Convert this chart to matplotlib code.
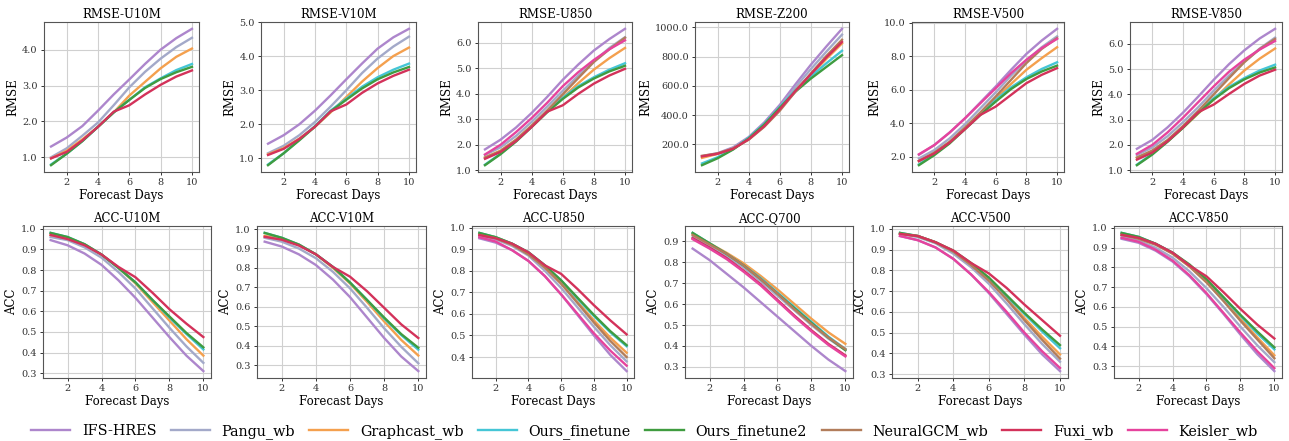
import matplotlib
matplotlib.use("Agg")
import matplotlib.pyplot as plt
from matplotlib.ticker import MultipleLocator, FormatStrFormatter

plt.rcParams['font.family'] = ['DejaVu Serif']

days = [1, 2, 3, 4, 5, 6, 7, 8, 9, 10]
models = ["IFS-HRES", "Pangu_wb", "Graphcast_wb", "Ours_finetune", "Ours_finetune2",
          "NeuralGCM_wb", "Fuxi_wb", "Keisler_wb"]
colors = {"IFS-HRES": "#ad86cc", "Pangu_wb": "#a3a9c9", "Graphcast_wb": "#f4a04e",
          "Ours_finetune": "#45c6d6", "Ours_finetune2": "#3f9c40", "NeuralGCM_wb": "#b27d5b",
          "Fuxi_wb": "#d3325a", "Keisler_wb": "#e6439d"}

rmse_u10m = {
    "IFS-HRES": [1.30, 1.55, 1.87, 2.30, 2.75, 3.17, 3.60, 4.00, 4.32, 4.58],
    "Pangu_wb": [1.00, 1.25, 1.60, 1.97, 2.45, 2.95, 3.38, 3.75, 4.07, 4.33],
    "Graphcast_wb": [0.97, 1.18, 1.50, 1.85, 2.25, 2.72, 3.10, 3.48, 3.80, 4.03],
    "Ours_finetune": [0.80, 1.10, 1.45, 1.85, 2.25, 2.60, 2.95, 3.20, 3.43, 3.60],
    "Ours_finetune2": [0.78, 1.10, 1.45, 1.85, 2.25, 2.60, 2.93, 3.18, 3.37, 3.52],
    "Fuxi_wb": [0.97, 1.15, 1.47, 1.85, 2.27, 2.45, 2.75, 3.02, 3.25, 3.42],
}
rmse_v10m = {
    "IFS-HRES": [1.43, 1.68, 2.00, 2.40, 2.85, 3.32, 3.78, 4.22, 4.55, 4.80],
    "Pangu_wb": [1.15, 1.37, 1.68, 2.07, 2.52, 3.00, 3.50, 3.93, 4.28, 4.57],
    "Graphcast_wb": [1.12, 1.30, 1.58, 1.93, 2.35, 2.80, 3.25, 3.65, 4.00, 4.25],
    "Ours_finetune": [0.82, 1.15, 1.55, 1.95, 2.40, 2.75, 3.10, 3.38, 3.60, 3.78],
    "Ours_finetune2": [0.80, 1.15, 1.53, 1.93, 2.38, 2.72, 3.05, 3.32, 3.52, 3.68],
    "Fuxi_wb": [1.10, 1.28, 1.57, 1.93, 2.38, 2.58, 2.92, 3.20, 3.42, 3.60],
}
rmse_u850 = {
    "IFS-HRES": [1.82, 2.20, 2.68, 3.25, 3.88, 4.55, 5.15, 5.70, 6.15, 6.55],
    "Pangu_wb": [1.60, 1.90, 2.35, 2.90, 3.50, 4.12, 4.72, 5.27, 5.80, 6.22],
    "Graphcast_wb": [1.50, 1.77, 2.20, 2.75, 3.30, 3.85, 4.42, 4.95, 5.40, 5.80],
    "Ours_finetune": [1.22, 1.65, 2.15, 2.72, 3.30, 3.85, 4.30, 4.65, 4.95, 5.20],
    "Ours_finetune2": [1.20, 1.63, 2.13, 2.70, 3.28, 3.80, 4.25, 4.60, 4.88, 5.10],
    "NeuralGCM_wb": [1.50, 1.75, 2.20, 2.75, 3.35, 3.98, 4.62, 5.25, 5.75, 6.20],
    "Fuxi_wb": [1.45, 1.72, 2.15, 2.70, 3.30, 3.55, 4.00, 4.40, 4.72, 4.98],
    "Keisler_wb": [1.62, 2.00, 2.50, 3.05, 3.65, 4.30, 4.85, 5.33, 5.75, 6.10],
}
rmse_z200 = {
    "IFS-HRES": [120, 140, 180, 250, 350, 470, 610, 745, 870, 990],
    "Pangu_wb": [115, 137, 175, 243, 338, 455, 590, 715, 835, 950],
    "Graphcast_wb": [108, 135, 170, 235, 325, 440, 570, 675, 785, 890],
    "Ours_finetune": [70, 112, 168, 245, 340, 455, 570, 665, 755, 840],
    "Ours_finetune2": [58, 105, 165, 240, 335, 450, 560, 650, 730, 810],
    "NeuralGCM_wb": [122, 138, 172, 232, 320, 430, 560, 685, 805, 915],
    "Fuxi_wb": [118, 136, 170, 235, 325, 440, 565, 680, 795, 900],
}
rmse_v500 = {
    "IFS-HRES": [2.12, 2.70, 3.45, 4.30, 5.25, 6.20, 7.20, 8.15, 8.95, 9.65],
    "Pangu_wb": [1.90, 2.40, 3.10, 3.95, 4.90, 5.85, 6.85, 7.75, 8.55, 9.20],
    "Graphcast_wb": [1.75, 2.20, 2.85, 3.70, 4.55, 5.45, 6.35, 7.20, 7.90, 8.55],
    "Ours_finetune": [1.55, 2.15, 2.85, 3.70, 4.55, 5.40, 6.15, 6.75, 7.25, 7.65],
    "Ours_finetune2": [1.50, 2.10, 2.80, 3.65, 4.50, 5.30, 6.05, 6.65, 7.10, 7.45],
    "NeuralGCM_wb": [1.75, 2.25, 2.90, 3.75, 4.65, 5.60, 6.60, 7.60, 8.45, 9.10],
    "Fuxi_wb": [1.75, 2.20, 2.85, 3.65, 4.50, 5.00, 5.70, 6.40, 6.90, 7.30],
    "Keisler_wb": [2.15, 2.70, 3.45, 4.30, 5.20, 6.10, 7.00, 7.80, 8.50, 9.05],
}
rmse_v850 = {
    "IFS-HRES": [1.85, 2.20, 2.70, 3.28, 3.92, 4.58, 5.20, 5.75, 6.22, 6.60],
    "Pangu_wb": [1.60, 1.90, 2.35, 2.90, 3.50, 4.15, 4.75, 5.30, 5.82, 6.25],
    "Graphcast_wb": [1.50, 1.75, 2.15, 2.68, 3.25, 3.80, 4.40, 4.95, 5.42, 5.82],
    "Ours_finetune": [1.22, 1.65, 2.15, 2.70, 3.30, 3.85, 4.30, 4.65, 4.95, 5.18],
    "Ours_finetune2": [1.20, 1.62, 2.13, 2.68, 3.27, 3.80, 4.25, 4.60, 4.87, 5.07],
    "NeuralGCM_wb": [1.50, 1.78, 2.20, 2.75, 3.35, 4.00, 4.65, 5.28, 5.80, 6.20],
    "Fuxi_wb": [1.42, 1.70, 2.15, 2.70, 3.30, 3.60, 4.02, 4.42, 4.75, 4.98],
    "Keisler_wb": [1.65, 2.00, 2.50, 3.08, 3.70, 4.32, 4.90, 5.38, 5.78, 6.12],
}
acc_u10m = {
    "IFS-HRES": [0.945, 0.920, 0.880, 0.825, 0.750, 0.665, 0.570, 0.475, 0.385, 0.310],
    "Pangu_wb": [0.960, 0.945, 0.910, 0.860, 0.790, 0.710, 0.615, 0.520, 0.430, 0.350],
    "Graphcast_wb": [0.970, 0.955, 0.925, 0.875, 0.810, 0.735, 0.645, 0.555, 0.465, 0.385],
    "Ours_finetune": [0.980, 0.960, 0.925, 0.875, 0.810, 0.740, 0.655, 0.570, 0.490, 0.415],
    "Ours_finetune2": [0.980, 0.960, 0.925, 0.875, 0.810, 0.740, 0.655, 0.575, 0.495, 0.425],
    "Fuxi_wb": [0.970, 0.950, 0.920, 0.875, 0.815, 0.765, 0.690, 0.610, 0.540, 0.475],
}
acc_v10m = {
    "IFS-HRES": [0.935, 0.910, 0.870, 0.815, 0.740, 0.650, 0.545, 0.440, 0.345, 0.270],
    "Pangu_wb": [0.955, 0.935, 0.900, 0.850, 0.780, 0.695, 0.595, 0.490, 0.395, 0.310],
    "Graphcast_wb": [0.965, 0.950, 0.920, 0.870, 0.800, 0.720, 0.625, 0.525, 0.430, 0.350],
    "Ours_finetune": [0.980, 0.955, 0.920, 0.870, 0.805, 0.725, 0.635, 0.540, 0.455, 0.380],
    "Ours_finetune2": [0.980, 0.955, 0.920, 0.870, 0.805, 0.725, 0.635, 0.545, 0.460, 0.390],
    "Fuxi_wb": [0.960, 0.945, 0.915, 0.870, 0.805, 0.755, 0.680, 0.595, 0.510, 0.440],
}
acc_u850 = {
    "IFS-HRES": [0.950, 0.930, 0.895, 0.845, 0.775, 0.690, 0.595, 0.500, 0.410, 0.335],
    "Pangu_wb": [0.960, 0.945, 0.915, 0.870, 0.800, 0.720, 0.630, 0.540, 0.455, 0.380],
    "Graphcast_wb": [0.970, 0.955, 0.925, 0.880, 0.815, 0.740, 0.655, 0.570, 0.490, 0.420],
    "Ours_finetune": [0.975, 0.955, 0.925, 0.885, 0.825, 0.755, 0.670, 0.590, 0.515, 0.450],
    "Ours_finetune2": [0.975, 0.955, 0.925, 0.885, 0.825, 0.755, 0.675, 0.595, 0.520, 0.455],
    "NeuralGCM_wb": [0.965, 0.950, 0.920, 0.875, 0.815, 0.740, 0.650, 0.560, 0.475, 0.400],
    "Fuxi_wb": [0.965, 0.950, 0.925, 0.885, 0.825, 0.785, 0.715, 0.640, 0.570, 0.505],
    "Keisler_wb": [0.955, 0.935, 0.895, 0.845, 0.775, 0.690, 0.600, 0.510, 0.430, 0.360],
}
acc_q700 = {
    "IFS-HRES": [0.865, 0.810, 0.745, 0.680, 0.610, 0.540, 0.470, 0.400, 0.335, 0.280],
    "Pangu_wb": [0.920, 0.875, 0.830, 0.775, 0.710, 0.640, 0.570, 0.500, 0.435, 0.380],
    "Graphcast_wb": [0.935, 0.890, 0.845, 0.795, 0.735, 0.670, 0.600, 0.530, 0.465, 0.410],
    "Ours_finetune": [0.940, 0.890, 0.840, 0.785, 0.725, 0.655, 0.585, 0.515, 0.445, 0.385],
    "Ours_finetune2": [0.940, 0.890, 0.840, 0.785, 0.720, 0.650, 0.580, 0.510, 0.440, 0.380],
    "NeuralGCM_wb": [0.930, 0.885, 0.840, 0.785, 0.720, 0.650, 0.575, 0.505, 0.440, 0.385],
    "Fuxi_wb": [0.915, 0.870, 0.820, 0.760, 0.695, 0.620, 0.545, 0.475, 0.410, 0.355],
    "Keisler_wb": [0.910, 0.865, 0.815, 0.755, 0.690, 0.615, 0.540, 0.470, 0.405, 0.350],
}
acc_v500 = {
    "IFS-HRES": [0.965, 0.945, 0.910, 0.855, 0.780, 0.690, 0.590, 0.490, 0.395, 0.315],
    "Pangu_wb": [0.975, 0.960, 0.930, 0.880, 0.815, 0.735, 0.640, 0.540, 0.445, 0.360],
    "Graphcast_wb": [0.975, 0.965, 0.935, 0.890, 0.830, 0.755, 0.665, 0.570, 0.480, 0.395],
    "Ours_finetune": [0.980, 0.965, 0.935, 0.890, 0.830, 0.760, 0.675, 0.590, 0.505, 0.425],
    "Ours_finetune2": [0.980, 0.965, 0.935, 0.895, 0.835, 0.765, 0.680, 0.595, 0.515, 0.440],
    "NeuralGCM_wb": [0.975, 0.965, 0.935, 0.890, 0.825, 0.750, 0.660, 0.560, 0.465, 0.375],
    "Fuxi_wb": [0.975, 0.965, 0.935, 0.895, 0.835, 0.785, 0.715, 0.635, 0.560, 0.485],
    "Keisler_wb": [0.965, 0.945, 0.910, 0.855, 0.780, 0.695, 0.600, 0.500, 0.410, 0.330],
}
acc_v850 = {
    "IFS-HRES": [0.945, 0.925, 0.885, 0.830, 0.755, 0.665, 0.565, 0.460, 0.360, 0.275],
    "Pangu_wb": [0.955, 0.935, 0.900, 0.850, 0.780, 0.695, 0.600, 0.500, 0.405, 0.320],
    "Graphcast_wb": [0.965, 0.950, 0.920, 0.870, 0.805, 0.725, 0.635, 0.540, 0.445, 0.355],
    "Ours_finetune": [0.975, 0.955, 0.920, 0.875, 0.810, 0.735, 0.645, 0.555, 0.465, 0.385],
    "Ours_finetune2": [0.975, 0.955, 0.920, 0.875, 0.815, 0.740, 0.650, 0.560, 0.475, 0.395],
    "NeuralGCM_wb": [0.965, 0.945, 0.915, 0.870, 0.805, 0.725, 0.630, 0.530, 0.435, 0.340],
    "Fuxi_wb": [0.965, 0.950, 0.920, 0.875, 0.810, 0.755, 0.675, 0.590, 0.510, 0.440],
    "Keisler_wb": [0.950, 0.930, 0.890, 0.835, 0.760, 0.670, 0.570, 0.470, 0.375, 0.290],
}

panels = [
    ("RMSE-U10M", "RMSE", rmse_u10m, 1.0),
    ("RMSE-V10M", "RMSE", rmse_v10m, 1.0),
    ("RMSE-U850", "RMSE", rmse_u850, 1.0),
    ("RMSE-Z200", "RMSE", rmse_z200, 200.0),
    ("RMSE-V500", "RMSE", rmse_v500, 2.0),
    ("RMSE-V850", "RMSE", rmse_v850, 1.0),
    ("ACC-U10M", "ACC", acc_u10m, 0.1),
    ("ACC-V10M", "ACC", acc_v10m, 0.1),
    ("ACC-U850", "ACC", acc_u850, 0.1),
    ("ACC-Q700", "ACC", acc_q700, 0.1),
    ("ACC-V500", "ACC", acc_v500, 0.1),
    ("ACC-V850", "ACC", acc_v850, 0.1),
]

W, H = 1289, 441
# axes boxes in pixels: (left, right, top, bottom)
boxes = [
    (44, 199, 22, 172), (261, 416, 22, 172), (478, 632, 22, 172),
    (695, 849, 22, 172), (912, 1064, 22, 172), (1130, 1282, 22, 172),
    (43, 211, 226, 378), (257, 426, 226, 378), (472, 634, 226, 378),
    (685, 853, 226, 378), (892, 1068, 226, 378), (1114, 1282, 226, 378),
]

fig = plt.figure(figsize=(W / 100, H / 100), dpi=100)
handles = {}
for (title, ylab, data, step), (l, r, t, b) in zip(panels, boxes):
    ax = fig.add_axes([l / W, 1 - b / H, (r - l) / W, (b - t) / H])
    for m in models:
        if m in data:
            ln, = ax.plot(days, data[m], color=colors[m], lw=1.7, label=m)
            handles[m] = ln
    ax.set_title(title, fontsize=8.5, pad=3)
    ax.set_xlabel("Forecast Days", fontsize=8.5, labelpad=1)
    ax.set_ylabel(ylab, fontsize=8.5, labelpad=2)
    ax.set_xticks([2, 4, 6, 8, 10])
    ax.yaxis.set_major_locator(MultipleLocator(step))
    ax.yaxis.set_major_formatter(FormatStrFormatter('%.1f'))
    ax.tick_params(labelsize=7, length=2.5, width=0.7, colors='#333333', pad=2)
    ax.grid(True, color='#d0d0d0', lw=0.8)
    ax.set_axisbelow(True)
    for s in ax.spines.values():
        s.set_color('#555555')
        s.set_linewidth(0.8)

fig.legend([handles[m] for m in models], models, loc='lower center',
           bbox_to_anchor=(0.5, -0.025), ncol=8, frameon=False, fontsize=10.4,
           handlelength=2.7, columnspacing=1.0, handletextpad=0.8)

fig.savefig("out.png", dpi=100)
